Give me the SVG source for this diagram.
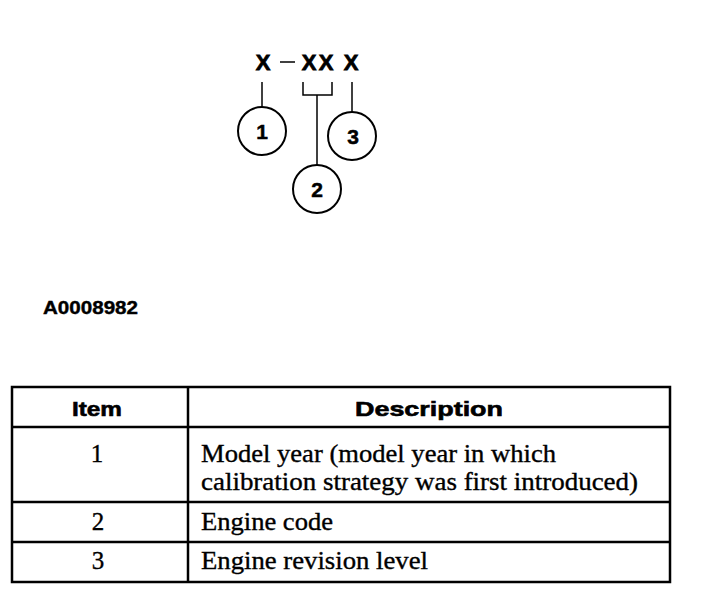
<svg xmlns="http://www.w3.org/2000/svg" width="704" height="596" viewBox="0 0 704 596">
<style>
.code{font-family:"Liberation Sans",Arial,sans-serif;font-weight:bold;font-size:22px;fill:#000;stroke:#000;stroke-width:0.8;text-anchor:middle}
.num{font-family:"Liberation Sans",Arial,sans-serif;font-weight:bold;font-size:21px;fill:#000;stroke:#000;stroke-width:0.5;text-anchor:middle}
.circ{fill:#fff;stroke:#000;stroke-width:2}
.ln{stroke:#000;stroke-width:1.5;fill:none}
.hdr{font-family:"Liberation Sans",Arial,sans-serif;font-weight:bold;font-size:21px;fill:#000;stroke:#000;stroke-width:0.6;text-anchor:middle}
.cell{font-family:"Liberation Serif","Times New Roman",serif;font-size:25px;fill:#000;stroke:#000;stroke-width:0.35}
.ctr{text-anchor:middle}
.tb{stroke:#000;stroke-width:2.5;fill:none}
</style>
<rect width="704" height="596" fill="#fff"/>
<g id="code">
<text class="code" x="263" y="70">X</text>
<line x1="280" y1="62" x2="295" y2="62" stroke="#000" stroke-width="1.5"/>
<text class="code" x="309" y="70">X</text>
<text class="code" x="326" y="70">X</text>
<text class="code" x="351" y="70">X</text>
</g>
<g id="connectors">
<line class="ln" x1="262" y1="82" x2="262" y2="107"/>
<polyline class="ln" points="303,82 303,95 332,95 332,82"/>
<line class="ln" x1="317" y1="95" x2="317" y2="165"/>
<line class="ln" x1="352" y1="82" x2="352" y2="112"/>
</g>
<g id="callout1">
<circle class="circ" cx="262" cy="131" r="24"/>
<text class="num" x="262" y="139">1</text>
</g>
<g id="callout2">
<circle class="circ" cx="317" cy="189" r="24"/>
<text class="num" x="317" y="197">2</text>
</g>
<g id="callout3">
<circle class="circ" cx="352" cy="136" r="24"/>
<text class="num" x="353" y="144">3</text>
</g>
<text id="ref" x="43" y="314" font-family="Liberation Sans, Arial, sans-serif" font-weight="bold" font-size="18" stroke="#000" stroke-width="0.4" textLength="95" lengthAdjust="spacingAndGlyphs">A0008982</text>
<g id="table">
<rect class="tb" x="12" y="387" width="658" height="195"/>
<line class="tb" x1="188" y1="387" x2="188" y2="582"/>
<line class="tb" x1="12" y1="427" x2="670" y2="427"/>
<line class="tb" x1="12" y1="502" x2="670" y2="502"/>
<line class="tb" x1="12" y1="542" x2="670" y2="542"/>
<text class="hdr" x="97" y="416" textLength="50" lengthAdjust="spacingAndGlyphs">Item</text>
<text class="hdr" x="429" y="416" textLength="148" lengthAdjust="spacingAndGlyphs">Description</text>
<text class="cell ctr" x="97" y="462">1</text>
<text class="cell" x="201" y="462" textLength="355" lengthAdjust="spacingAndGlyphs">Model year (model year in which</text>
<text class="cell" x="201" y="490" textLength="437" lengthAdjust="spacingAndGlyphs">calibration strategy was first introduced)</text>
<text class="cell ctr" x="98" y="530">2</text>
<text class="cell" x="201" y="530" textLength="132" lengthAdjust="spacingAndGlyphs">Engine code</text>
<text class="cell ctr" x="98" y="569">3</text>
<text class="cell" x="201" y="569" textLength="227" lengthAdjust="spacingAndGlyphs">Engine revision level</text>
</g>
</svg>
